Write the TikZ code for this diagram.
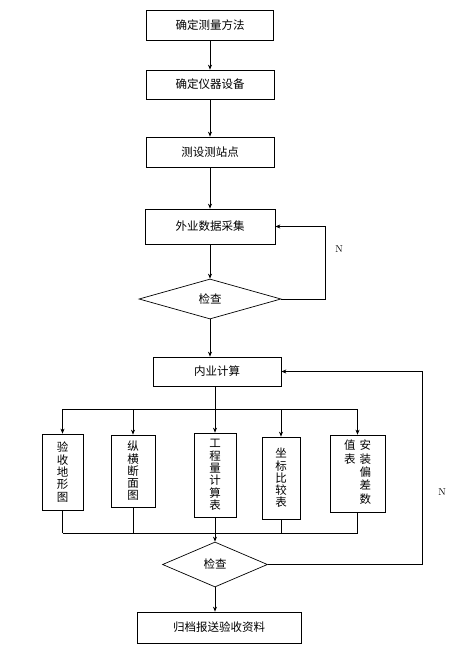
\documentclass[tikz,border=0pt]{standalone}
\usepackage{fontspec}
\newfontfamily\cjk{Noto Sans CJK SC}
\usetikzlibrary{arrows.meta, shapes.geometric, positioning}

\begin{document}
\begin{tikzpicture}[x=1pt, y=-1pt, >={Stealth[length=5pt, width=4pt]}, line width=0.7pt,
    flowbox/.style={draw, rectangle, inner sep=0pt, font=\cjk\fontsize{11.5}{12.3}\selectfont},
    colbox/.style={flowbox, align=center},
    checkbox/.style={draw, diamond, inner sep=0pt, font=\cjk\fontsize{11.5}{12.3}\selectfont},
    nlabel/.style={font=\fontsize{10}{12}\selectfont}]
    \useasboundingbox (0,0) rectangle (451,646);

    % 1. Field work
    \node[flowbox, minimum width=127pt, minimum height=30pt] (fangfa) at (210,25) {确定测量方法};
    \node[flowbox, minimum width=128pt, minimum height=29pt] (yiqi) at (210,84.5) {确定仪器设备};
    \node[flowbox, minimum width=128pt, minimum height=30pt] (cezhan) at (210,152) {测设测站点};
    \node[flowbox, minimum width=130pt, minimum height=35pt] (waiye) at (210,226.5) {外业数据采集};
    \node[checkbox, minimum width=142pt, minimum height=40pt] (jiancha1) at (210,299) {检查};
    \draw[->] (fangfa) -- (yiqi);
    \draw[->] (yiqi) -- (cezhan);
    \draw[->] (cezhan) -- (waiye);
    \draw[->] (waiye) -- (jiancha1);

    % 2. Loop back
    \coordinate (r1) at (325,0);
    \draw[->] (jiancha1.east) -| (r1 |- waiye.east) -- (waiye.east);
    \node[nlabel] (n1) at (339,249) {N};

    % 3. Office work
    \node[flowbox, minimum width=128pt, minimum height=29pt] (neiye) at (217,371.5) {内业计算};
    \draw[->] (jiancha1.south) -- (jiancha1.south |- neiye.north);

    % 4. Results
    \node[colbox, minimum width=41pt, minimum height=76pt] (dixing) at (62.5,472) {验\\收\\地\\形\\图};
    \node[colbox, minimum width=44pt, minimum height=72pt] (duanmian) at (133,471) {纵\\横\\断\\面\\图};
    \node[colbox, minimum width=42pt, minimum height=84pt] (gongcheng) at (215,475) {工\\程\\量\\计\\算\\表};
    \node[colbox, minimum width=38pt, minimum height=82pt] (zuobiao) at (281,478) {坐\\标\\比\\较\\表};
    \node[flowbox, minimum width=55pt, minimum height=77pt] (piancha) at (357.5,473.5)
        {\begin{tabular}[t]{@{}c@{}}值\\表\end{tabular}\hspace{4pt}\begin{tabular}[t]{@{}c@{}}安\\装\\偏\\差\\数\end{tabular}};

    \coordinate (bus) at (0,409);
    \coordinate (busb) at (0,533);
    \draw[->] (neiye.south -| gongcheng.north) -- (gongcheng.north);
    \draw (dixing.north |- bus) -- (piancha.north |- bus);
    \foreach \res in {dixing, duanmian, zuobiao, piancha} {
        \draw[->] (\res.north |- bus) -- (\res.north);
        \draw (\res.south) -- (\res.south |- busb);
    }
    \draw (dixing.south |- busb) -- (piancha.south |- busb);

    % 5. Check and archive
    \node[checkbox, minimum width=105pt, minimum height=45pt] (jiancha2) at (215,564.5) {检查};
    \draw[->] (gongcheng.south) -- (jiancha2.north);
    \coordinate (r2) at (422,0);
    \draw[->] (jiancha2.east) -| (r2 |- neiye.east) -- (neiye.east);
    \node[nlabel] (n2) at (442,492) {N};

    \node[flowbox, minimum width=164pt, minimum height=31pt] (guidang) at (219,627.5) {归档报送验收资料};
    \draw[->] (jiancha2.south) -- (jiancha2.south |- guidang.north);
\end{tikzpicture}
\end{document}
